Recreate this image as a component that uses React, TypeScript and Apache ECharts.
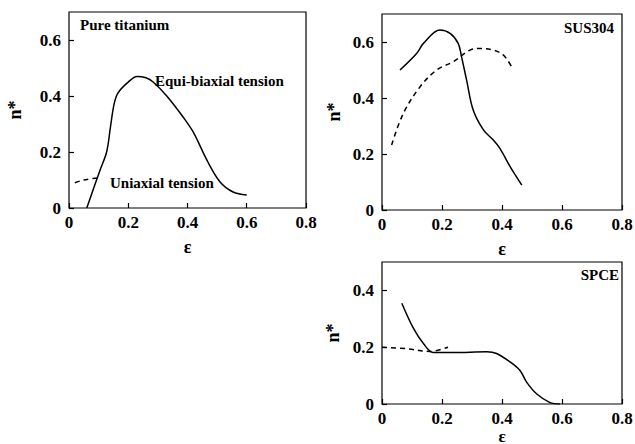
import React, { useEffect, useRef } from "react";
import * as echarts from "echarts";

// x: true strain ε, y: n*
const titaniumEqui: number[][] = [
  [0.06, 0], [0.105, 0.136], [0.127, 0.2], [0.14, 0.29], [0.152, 0.37], [0.165, 0.41],
  [0.195, 0.445], [0.23, 0.47], [0.26, 0.465], [0.284, 0.45], [0.33, 0.4], [0.385, 0.325],
  [0.42, 0.27], [0.466, 0.17], [0.51, 0.093], [0.554, 0.057], [0.6, 0.046],
];
const titaniumUni: number[][] = [[0.02, 0.09], [0.05, 0.1], [0.095, 0.107]];

const susEqui: number[][] = [
  [0.06, 0.5], [0.116, 0.56], [0.138, 0.595], [0.193, 0.643], [0.227, 0.631], [0.254, 0.595],
  [0.265, 0.548], [0.282, 0.464], [0.304, 0.357], [0.338, 0.286], [0.371, 0.25], [0.393, 0.22],
  [0.427, 0.155], [0.466, 0.089],
];
const susUni: number[][] = [
  [0.032, 0.232], [0.071, 0.345], [0.127, 0.44], [0.182, 0.5], [0.238, 0.53], [0.293, 0.571],
  [0.327, 0.577], [0.371, 0.571], [0.404, 0.554], [0.432, 0.512],
];

const spceEqui: number[][] = [
  [0.066, 0.355], [0.105, 0.266], [0.138, 0.213], [0.171, 0.181], [0.238, 0.181], [0.349, 0.184],
  [0.382, 0.178], [0.427, 0.148], [0.46, 0.118], [0.482, 0.077], [0.516, 0.035], [0.56, 0.005],
  [0.593, 0],
];
const spceUni: number[][] = [[0, 0.2], [0.08, 0.195], [0.16, 0.185], [0.22, 0.2]];

const xMin = 0, xMax = 0.8, xStep = 0.2;
const yStep = 0.2;
const yMaxTop = 0.7, yMaxBottom = 0.5;

const FONT = "Liberation Serif";

export default function App() {
  const ref = useRef<HTMLDivElement>(null);
  useEffect(() => {
    if (!ref.current) return;
    const chart = echarts.init(ref.current, undefined, { renderer: "svg" });
    const grids = [
      { left: 69, top: 12, width: 237, height: 196 },
      { left: 382, top: 14, width: 240, height: 196 },
      { left: 382, top: 262, width: 240, height: 142 },
    ].map((g) => ({
      ...g, show: true, borderColor: "#000", borderWidth: 1.2, backgroundColor: "transparent",
      outerBoundsMode: "none", containLabel: false,
    }));
    const labelStyle = { color: "#000", fontFamily: FONT, fontWeight: "bold" as const, fontSize: 17 };
    const nameStyle = { color: "#000", fontFamily: FONT, fontWeight: "bold" as const, fontSize: 18 };
    const tick = { show: true, inside: true, length: 5, lineStyle: { color: "#000", width: 1.2 } };
    const xNameGaps = [30, 30, 17];
    const xAxis = [0, 1, 2].map((i) => ({
      type: "value" as const, gridIndex: i, min: xMin, max: xMax, interval: xStep,
      axisLine: { show: false }, axisTick: tick, splitLine: { show: false },
      axisLabel: { ...labelStyle, margin: 6 },
      name: "ε", nameLocation: "middle" as const, nameGap: xNameGaps[i],
      nameTextStyle: i === 2 ? { ...nameStyle, fontSize: 17, lineHeight: 18 } : nameStyle,
    }));
    const yNameGaps = [45, 39, 40];
    const yMaxes = [yMaxTop, yMaxTop, yMaxBottom];
    const yAxis = [0, 1, 2].map((i) => ({
      type: "value" as const, gridIndex: i, min: 0, max: yMaxes[i], interval: yStep,
      axisLine: { show: false }, axisTick: tick, splitLine: { show: false },
      axisLabel: { ...labelStyle, margin: 8, showMaxLabel: false },
      name: "n*", nameLocation: "middle" as const, nameGap: yNameGaps[i], nameRotate: 90,
      nameTextStyle: nameStyle,
    }));
    const solid = { color: "#000", width: 1.5, type: "solid" as const };
    const dashed = { color: "#000", width: 1.5, type: [5, 4] as any };
    const mk = (data: number[][], i: number, ls: any) => ({
      type: "line" as const, xAxisIndex: i, yAxisIndex: i, data, showSymbol: false,
      smooth: 0.35, lineStyle: ls, silent: true,
    });
    const txt = (text: string, x: number, y: number, align: string = "left") => ({
      type: "text" as const, x, y,
      style: { text, fill: "#000", font: `bold 15px '${FONT}'`, textAlign: align, textVerticalAlign: "middle" },
    });
    chart.setOption({
      animation: false,
      backgroundColor: "#fff",
      textStyle: { fontFamily: FONT },
      grid: grids,
      xAxis, yAxis,
      series: [
        mk(titaniumEqui, 0, solid), mk(titaniumUni, 0, dashed),
        mk(susEqui, 1, solid), mk(susUni, 1, dashed),
        mk(spceEqui, 2, solid), mk(spceUni, 2, dashed),
      ],
      graphic: [
        txt("Pure titanium", 80, 25),
        txt("Equi-biaxial tension", 155, 81),
        txt("Uniaxial tension", 110, 183),
        txt("SUS304", 614, 28, "right"),
        txt("SPCE", 619, 275, "right"),
      ],
    });
    return () => chart.dispose();
  }, []);
  return <div ref={ref} style={{ position: "fixed", left: 0, top: 0, width: 635, height: 444 }} />;
}
